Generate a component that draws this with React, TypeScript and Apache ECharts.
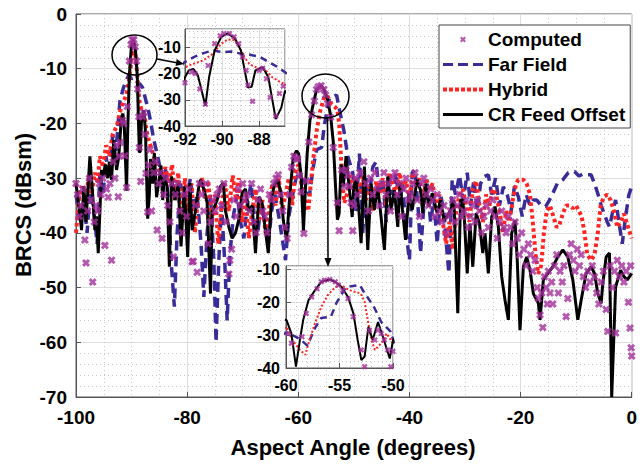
import { useEffect, useRef } from 'react';
import * as echarts from 'echarts';

const FONT = '"Liberation Sans", Arial, sans-serif';

// CR Feed Offset (black solid line) [aspect angle, BRCS]
const crFeedOffset: [number, number][] = [
  [-100,-30.9],[-99.5,-35],[-99,-39.5],[-98.6,-31.5],[-98.2,-38],[-97.5,-26],[-97,-33],[-96.6,-39.5],[-96.3,-37],[-96,-43.7],
  [-95.4,-28.5],[-95.1,-29.5],[-94.7,-27.5],[-94.3,-30],[-94,-27],[-93.6,-30.3],[-93.2,-23],[-92.7,-28.5],[-92.3,-26],[-92,-21.4],
  [-91.8,-18.8],[-91.55,-18.2],[-91.3,-20.8],[-90.9,-32.3],[-90.7,-21.4],[-90.4,-11.2],[-90.04,-6],[-89.7,-4.7],[-89.3,-6.6],[-88.98,-11.2],
  [-88.6,-25.3],[-88.4,-25],[-88.2,-18.8],[-87.8,-17.6],[-87.5,-21.4],[-87.1,-37.4],[-86.8,-33],[-86.6,-26.5],[-86.2,-31],[-85.9,-25.4],
  [-85.5,-33.5],[-85,-30],[-84.7,-27.7],[-84.4,-34],[-84.1,-29.7],[-83.6,-31.5],[-83.2,-46.2],[-82.8,-29.7],[-82.2,-34],[-81.6,-31],
  [-81.1,-42.5],[-80.5,-31.5],[-79.9,-44.4],[-79.5,-30.9],[-79.1,-39.5],[-78.5,-36],[-77.9,-31.5],[-77.6,-30.3],[-77,-32],[-76.4,-34.5],
  [-75.8,-51.1],[-75.5,-36],[-75.2,-35.5],[-74.6,-34],[-74,-31.5],[-73.5,-30.9],[-73.1,-36],[-72.5,-38.9],[-71.9,-41],[-71.3,-40],
  [-70.7,-37.6],[-70.1,-32.7],[-69.5,-32],[-68.9,-36],[-68.3,-35],[-67.7,-43.7],[-67.1,-33.4],[-66.5,-34.6],[-66,-38.9],[-65.4,-43.7],
  [-64.8,-33.4],[-64.2,-31],[-63.7,-30.3],[-63.1,-32.8],[-62.7,-37.7],[-62.1,-41.3],[-61.5,-32.8],[-60.9,-26.1],[-60.3,-25],[-59.94,-25.5],
  [-59.5,-29.5],[-59.07,-39.6],[-58.7,-31.5],[-58.4,-25.5],[-57.9,-19.4],[-57.3,-16.4],[-56.7,-13.8],[-55.9,-13.1],[-55.4,-13.8],[-54.8,-15.4],
  [-54.2,-18.4],[-53.7,-23.4],[-53.3,-31.5],[-52.96,-37.6],[-52.65,-36.5],[-52.3,-27.5],[-51.9,-31.5],[-51.4,-26],[-50.95,-30.5],[-50.3,-37.1],
  [-50,-31.5],[-49.6,-30.3],[-49.1,-35.8],[-48.7,-41.9],[-48.1,-27.9],[-47.5,-43.1],[-46.9,-31],[-46.3,-35.8],[-45.7,-31.6],[-45.1,-37.1],
  [-44.5,-43.1],[-43.9,-29.7],[-43.3,-35.8],[-42.7,-32.2],[-42.1,-38.9],[-41.7,-31],[-41.25,-35.8],[-40.7,-41.3],[-40.1,-32.8],[-39.5,-35.8],
  [-38.6,-30.3],[-38,-32.2],[-37.6,-36.4],[-37.1,-31],[-36.5,-35.2],[-35.9,-32.8],[-35,-36.4],[-34.4,-34],[-33.8,-37.7],[-33.2,-37],
  [-32.6,-35.8],[-32,-34],[-31.3,-54.7],[-30.8,-34],[-30.4,-34],[-30.1,-37.7],[-29.6,-47.4],[-29.1,-38.3],[-28.6,-46.2],[-28,-36.4],
  [-27.4,-38.3],[-26.8,-43.7],[-26.4,-40.1],[-25.8,-47.4],[-25.2,-37.1],[-24.6,-35.2],[-24,-38.9],[-23.4,-48],[-22.8,-52.3],[-22.2,-55.9],
  [-21.6,-40.1],[-21,-37.7],[-20.6,-45],[-20.1,-57.8],[-19.5,-46.2],[-18.9,-44.4],[-18.3,-46.8],[-17.7,-51.1],[-16.8,-52.9],[-16.5,-55.9],
  [-15.9,-48.6],[-15.1,-47.4],[-14.2,-46.2],[-13.3,-44.4],[-12.4,-43.1],[-11.5,-44.4],[-10.6,-48.6],[-9.7,-55.9],[-9.1,-52.3],[-8.2,-47.4],
  [-7.3,-46.2],[-6.7,-47.4],[-6.1,-51.1],[-5.5,-52.9],[-5.2,-49.2],[-4.6,-44.4],[-4,-43.7],[-3.6,-70],[-2.9,-49.9],[-2,-46.8],
  [-1.4,-48],[-0.8,-48.6],[0,-47.4],
];

// Far Field (blue dashed line)
const farField: [number, number][] = [
  [-100,-33],[-99.3,-38],[-98.6,-34],[-98,-40],[-97.4,-31],[-96.8,-36],[-96.2,-42],[-95.7,-29],[-95.1,-33],[-94.6,-26],
  [-94,-30],[-93.4,-22],[-92.8,-25],[-92.1,-16],[-91.5,-13.6],[-91,-12.2],[-90.5,-11.2],[-90,-11.8],[-89.5,-11.6],[-89,-12.4],
  [-88.5,-12.8],[-88,-13.5],[-87.5,-15.5],[-87,-17.5],[-86.6,-19.5],[-86,-23],[-85.3,-26],[-84.7,-29],[-84.2,-31],[-83.8,-28],
  [-83.3,-36],[-82.9,-45],[-82.3,-53.5],[-81.8,-40],[-81.2,-31],[-80.6,-34],[-80,-33],[-79.4,-30],[-78.8,-36],[-78.2,-33],
  [-77.5,-42],[-77,-51.7],[-76.4,-40],[-75.8,-33],[-75.2,-45],[-74.8,-60],[-74.3,-45],[-73.8,-35],[-73.2,-46],[-72.8,-56],
  [-72.3,-44],[-71.7,-37],[-71,-33],[-70.4,-38],[-69.8,-41],[-69.2,-35],[-68.5,-31],[-67.9,-37],[-67.3,-40],[-66.7,-35],
  [-66,-38],[-65.4,-42],[-64.8,-36],[-64.2,-33],[-63.5,-37],[-62.9,-41],[-62.3,-45],[-61.7,-37],[-61,-33],[-60.4,-30],
  [-59.9,-29.2],[-58.7,-31.2],[-58,-33.2],[-57.3,-27.9],[-56.7,-24.8],[-55.8,-24.4],[-55.3,-20.3],[-54.4,-15.4],[-53.1,-14.8],[-52.7,-17],
  [-51.8,-21.3],[-51.1,-26],[-50.2,-29],[-49.6,-36],[-49,-25.5],[-48.4,-40],[-47.8,-30],[-47.2,-33],[-46.6,-28],[-46,-27],
  [-45.4,-33],[-44.8,-30],[-44.2,-38],[-43.6,-30],[-43,-33],[-42.4,-29],[-41.8,-35],[-41.2,-31],[-40.6,-40],[-40,-45],
  [-39.5,-29],[-39,-28.5],[-38.4,-36],[-38,-43.7],[-37.4,-35],[-36.8,-31],[-36.2,-38],[-35.6,-34],[-35,-42],[-34.4,-33],
  [-33.8,-36],[-33.2,-44],[-32.9,-47.4],[-32.3,-30.3],[-31.7,-33],[-31,-29.5],[-30.3,-34],[-29.6,-29],[-29,-35],[-28.4,-30.3],
  [-27.8,-36],[-27.2,-31],[-26.5,-29.7],[-25.8,-29.4],[-25.2,-33],[-24.5,-30],[-23.8,-35],[-23.1,-31.6],[-22.4,-33],[-21.7,-36],
  [-21.1,-31.5],[-20.4,-33.4],[-19.7,-37],[-19,-33],[-18.3,-35],[-17.7,-34],[-17.1,-34],[-16.3,-35],[-15.5,-35.2],[-14.8,-34],
  [-14.2,-32.8],[-13.4,-31],[-12.4,-30.3],[-11.4,-29],[-10.3,-28.8],[-9.5,-29.6],[-8.7,-29.2],[-7.9,-29.4],[-7.3,-29.4],[-6.7,-31],
  [-6.1,-32.8],[-5.5,-35],[-5,-36.4],[-4.4,-38],[-4,-38.9],[-3.4,-36],[-2.9,-34],[-2.3,-38],[-1.7,-42],[-1.1,-37],
  [-0.5,-33],[0,-31.6],
];

// Hybrid (red dotted line)
const hybrid: [number, number][] = [
  [-100,-40],[-99.4,-33],[-98.9,-31.5],[-98.3,-36],[-97.8,-30],[-97.2,-33],[-96.6,-29],[-96.1,-31],[-95.7,-26],[-95.1,-28],
  [-94.6,-24],[-94,-26],[-93.4,-22],[-92.7,-20.6],[-92,-17.6],[-91.56,-16.3],[-91.02,-15],[-90.49,-12.4],[-90.04,-8.6],[-89.69,-7],
  [-89.33,-7.3],[-89.07,-9.9],[-88.8,-13.7],[-88.53,-16.3],[-88.18,-17.6],[-87.64,-18.8],[-87.29,-21.4],[-86.84,-23.3],[-86.3,-25],[-85.7,-27],
  [-85.1,-28.5],[-84.5,-30],[-83.9,-28],[-83.3,-31],[-82.7,-27.5],[-82.2,-34],[-81.6,-29],[-81,-38],[-80.4,-30],[-79.8,-36],
  [-79.2,-31],[-78.6,-40],[-78,-33],[-77.3,-30],[-76.7,-34],[-76.2,-30.5],[-75.6,-38],[-75,-33],[-74.4,-42],[-73.8,-35],
  [-73.2,-31],[-72.5,-36],[-71.8,-29.5],[-71.2,-34],[-70.7,-30],[-70.1,-38],[-69.5,-33],[-68.9,-41],[-68.3,-36],[-67.7,-32],
  [-67.1,-38],[-66.5,-34],[-65.9,-40],[-65.3,-36],[-64.7,-31],[-64.1,-35],[-63.5,-30],[-62.9,-36],[-62.3,-33],[-61.7,-30],
  [-61.1,-35],[-60.5,-28.5],[-59.94,-27.5],[-59.4,-31.5],[-58.7,-34.5],[-58.2,-36],[-57.8,-31.5],[-57.3,-26.5],[-56.7,-21.4],[-56.1,-17.9],
  [-55.4,-15.4],[-54.8,-14.9],[-54.05,-16.4],[-53.5,-16.9],[-53,-17.4],[-52.65,-19.9],[-52.3,-26.5],[-52,-31.5],[-51.7,-34.5],[-51.1,-32.5],
  [-50.6,-29.5],[-50.3,-31],[-50,-32.5],[-49.6,-30],[-49,-33],[-48.4,-29.7],[-47.8,-34],[-47.2,-31],[-46.6,-36],[-46,-30.5],
  [-45.4,-33],[-44.8,-30],[-44.2,-35],[-43.6,-29],[-43,-31],[-42.4,-33],[-41.8,-29],[-41.2,-32],[-40.6,-30.5],[-40,-34],
  [-39.4,-29],[-38.8,-31.5],[-38.2,-30],[-37.6,-35],[-37,-30],[-36.4,-32],[-35.8,-31],[-35.2,-36],[-34.6,-33],[-34,-38],
  [-33.4,-42],[-32.8,-38],[-32.2,-43],[-31.6,-36],[-31,-33],[-30.4,-32],[-29.8,-35],[-29.2,-38],[-28.6,-32],[-28,-30.5],
  [-27.4,-35],[-26.8,-38],[-26.2,-33],[-25.6,-35],[-25,-32],[-24.4,-33],[-23.8,-36],[-23.2,-40],[-22.6,-36],[-22,-38],
  [-21.4,-34],[-20.8,-31],[-20.4,-30.3],[-19.5,-30.3],[-18.9,-31],[-18.3,-33],[-17.8,-38],[-17.3,-44],[-16.8,-47.5],[-16.3,-46],
  [-15.8,-40],[-15.3,-36],[-14.7,-35],[-14.1,-37],[-13.5,-39],[-13,-38.5],[-12.4,-36.5],[-11.8,-35],[-11.2,-35],[-10.6,-35.5],
  [-10,-35],[-9.5,-36],[-9,-37],[-8.5,-40],[-8,-44],[-7.3,-45],[-6.7,-44],[-6.1,-40],[-5.6,-35],[-5,-33.4],
  [-4.4,-33],[-3.8,-34],[-3.2,-36],[-2.6,-39],[-2,-38],[-1.4,-36.5],[-0.8,-38.5],[0,-41],
];

// Computed (magenta x markers)
const computed: [number, number][] = [
  [-100,-31],[-99.7,-33],[-99.4,-37],[-99.1,-35],[-98.8,-32],[-98.4,-41.3],[-98.2,-45.5],[-97.9,-36],[-97.6,-30],[-97.3,-34],
  [-97,-49],[-96.7,-38],[-96.4,-35],[-96.1,-36],[-95.8,-31],[-95.5,-33],[-95.2,-30],[-94.8,-42.3],[-94.5,-32],[-94.2,-33.5],
  [-93.9,-31],[-93.6,-45],[-93.3,-27],[-93,-30],[-92.7,-24],[-92.4,-33.4],[-92.2,-26],
  [-92,-23.5],[-91.65,-19.4],[-91.45,-20],[-91.2,-25.9],[-90.9,-31.7],[-90.75,-16.9],[-90.4,-8.6],[-90.1,-5.6],[-89.9,-4.7],
  [-89.6,-4.7],[-89.35,-6],[-89.1,-8.6],[-88.9,-13.7],[-88.7,-18.8],[-88.6,-24.4],[-88.35,-30.6],[-88,-18.8],[-87.8,-18],[-87.6,-22],
  [-87.4,-29.1],[-87.1,-36.2],[-86.9,-27.6],[-86.7,-24.8],
  [-86.4,-36],[-86,-29],[-85.7,-27],[-85.4,-39.5],[-85.1,-31],[-84.8,-29],[-84.5,-41],[-84.2,-33],[-83.9,-30],[-83.5,-35],
  [-83.1,-38],[-82.8,-31],[-82.5,-44.4],[-82.1,-33],[-81.7,-31],[-81.3,-36],[-80.9,-40],[-80.5,-33],[-80.1,-37],[-79.7,-32],
  [-79.1,-45.3],[-78.9,-45.2],[-78.5,-35],[-78.2,-47.2],[-77.8,-31],[-77.4,-33],[-77,-36],[-76.6,-31],[-76.2,-42],[-75.8,-38],
  [-75.4,-34],[-75,-36],[-74.6,-33],[-74.2,-32],[-73.8,-35],[-73.4,-31],[-73,-38],[-72.5,-47.5],[-72.3,-45],[-72,-43],
  [-71.6,-34],[-71.2,-37],[-70.8,-32],[-70.4,-35],[-70,-31],[-69.6,-34],[-69.2,-33],[-68.8,-36],[-68.4,-31],[-68,-38],
  [-67.6,-40],[-67.2,-34],[-66.8,-32],[-66.4,-36],[-66,-37],[-65.6,-40],[-65.2,-33],[-64.8,-34],[-64.4,-31],[-64,-30],
  [-63.6,-29.4],[-63.2,-33],[-62.8,-36],[-62.4,-39],[-62,-41],[-61.6,-33],[-61.2,-28],[-60.8,-26],[-60.4,-26.5],
  [-60.1,-26.5],[-59.8,-29.5],[-59.5,-32.5],[-59,-40.1],[-58.5,-30.5],[-58.1,-23.4],[-57.6,-18.4],[-57.1,-15.9],[-56.7,-13.8],[-56.4,-13.3],
  [-55.9,-13.1],[-55.4,-13.8],[-55.1,-14.8],[-54.7,-16.4],[-54.2,-18.9],[-53.7,-24.4],[-52.96,-34.5],[-52.65,-39.6],[-52.2,-28.5],[-51.7,-31.5],
  [-51.4,-28.5],[-51.1,-29.5],[-50.8,-31.5],[-50.5,-34.5],[-50.2,-39.6],[-50,-35],
  [-49.7,-30],[-49.3,-33],[-48.9,-29],[-48.2,-27],[-47.8,-31],[-47.4,-36],[-47,-30],[-46.6,-33],[-46.2,-29],[-45.8,-32],
  [-45.4,-35],[-45,-31],[-44.6,-29],[-44.2,-33],[-43.8,-31],[-43.4,-36],[-43,-30],[-42.6,-29],[-42.2,-33],[-41.8,-31],
  [-41.4,-37],[-41,-32],[-40.6,-30],[-40.2,-34],[-39.8,-33],[-39.4,-31],[-39,-29],[-38.6,-34],[-38.2,-37],[-37.8,-31],
  [-37.4,-30],[-37,-33],[-36.6,-35],[-36.2,-32],[-35.8,-34],[-35.4,-37],[-35,-33],[-34.6,-36],[-34.2,-38],[-33.8,-35],
  [-33.4,-40],[-33,-37],[-32.6,-36],[-32.2,-34],[-31.8,-38],[-31.4,-35],[-31,-33],[-30.6,-37],[-30.2,-36],[-29.8,-34],
  [-29.4,-39],[-29,-37],[-28.6,-35],[-28.2,-38],[-27.8,-34],[-27.4,-36],[-27,-40],[-26.6,-37],[-26.2,-35],[-25.8,-39],
  [-25.4,-36],[-25,-34],[-24.6,-37],[-24.2,-41],[-23.8,-38],[-23.4,-36],[-23,-39],[-22.6,-40],[-22.2,-37],[-21.8,-39],
  [-21.4,-42],[-21,-38],[-20.6,-41],[-20.2,-44],[-19.8,-40],[-19.4,-43],[-19,-46],[-18.6,-42],[-18.2,-44],[-17.8,-47],
  [-17.4,-45],[-17,-50],[-16.8,-52],[-16.5,-55],[-16.2,-51],[-16,-57.3],[-15.7,-48],[-15.4,-50],[-15.2,-53],[-15,-47],
  [-14.7,-51],[-14.4,-49],[-14.2,-53],[-13.9,-46],[-13.5,-44],[-13.2,-51],[-12.9,-47],[-12.5,-49],[-12.2,-46],[-11.8,-55.3],
  [-11.5,-52],[-11.2,-44],[-10.9,-42],[-10.5,-45],[-10.2,-47],[-9.8,-43],[-9.4,-46],[-9.1,-44],[-8.7,-48],[-8.3,-50],
  [-7.9,-47],[-7.5,-49],[-7.1,-46],[-6.7,-48],[-6.3,-51],[-5.9,-53],[-5.5,-49],[-5.1,-47],[-4.6,-54],[-4.3,-58],
  [-3.9,-46],[-3.5,-50],[-3.1,-47],[-2.9,-58.3],[-2.6,-45],[-2.2,-48],[-1.8,-46],[-1.4,-49],[-1,-47],[-0.6,-52.7],
  [-0.3,-57.4],[-0.2,-46],[-0.1,-61],[0,-62.5],
];

const legendNames = ['Computed', 'Far Field', 'Hybrid', 'CR Feed Offset'];
const mainXRange = [-100, 0];
const mainYRange = [-70, 0];
const inset1XRange = [-92, -86.6];
const inset1YRange = [-40, -3];
const inset2XRange = [-60, -50];
const inset2YRange = [-40, -9];

const X_SYMBOL = 'path://M0,2.6L2.6,0L5,2.4L7.4,0L10,2.6L7.6,5L10,7.4L7.4,10L5,7.6L2.6,10L0,7.4L2.4,5Z';
const X_LEGEND = 'path://M-7,-7M17,17M0,2.6L2.6,0L5,2.4L7.4,0L10,2.6L7.6,5L10,7.4L7.4,10L5,7.6L2.6,10L0,7.4L2.4,5Z';
const DASH_LEGEND = 'path://M0,0h10v3.2h-10zM15,0h10v3.2h-10zM30,0h10v3.2h-10z';
const DOT_LEGEND = 'path://M0,0h4v4h-4zM6,0h4v4h-4zM12,0h4v4h-4zM18,0h4v4h-4zM24,0h4v4h-4zM30,0h4v4h-4zM36,0h4v4h-4z';
const SOLID_LEGEND = 'path://M0,0h40v3h-40z';

const C_COMP = '#a3309b';
const C_FAR = '#3a2c98';
const C_HYB = '#ff2424';
const C_CR = '#000000';

function within(d: [number, number][], r: number[]) {
  return d.filter((p) => p[0] >= r[0] - 0.8 && p[0] <= r[1] + 0.8);
}

function makeAxis(grid: number, range: number[], interval: number, fs: number, margin: number, minorSplit: number, z: number, hideMax: boolean) {
  return {
    type: 'value',
    gridIndex: grid,
    min: range[0],
    max: range[1],
    interval,
    z,
    axisLine: { show: true, onZero: false, lineStyle: { color: '#555', width: 1 } },
    axisTick: { show: true, inside: true, length: 5, lineStyle: { color: '#555' } },
    axisLabel: {
      color: '#000', fontSize: fs, fontWeight: 'bold', fontFamily: FONT, margin,
      showMaxLabel: hideMax ? false : undefined,
    },
    splitLine: { show: true, lineStyle: { color: '#dedede', width: 1 } },
    minorTick: { show: false, splitNumber: minorSplit },
    minorSplitLine: { show: true, lineStyle: { color: '#c8c8c8', width: 1, type: [1, 3] } },
  };
}

function seriesSet(xi: number, d: { comp: any; far: any; hyb: any; cr: any }, inset: boolean, z: number) {
  return [
    {
      name: 'Computed', type: 'scatter', xAxisIndex: xi, yAxisIndex: xi, data: d.comp,
      symbol: X_SYMBOL, symbolSize: inset ? 6 : 8, itemStyle: { color: C_COMP }, z, clip: true,
    },
    {
      name: 'Far Field', type: 'line', xAxisIndex: xi, yAxisIndex: xi, data: d.far, symbol: 'none', showSymbol: false,
      color: C_FAR, itemStyle: { color: C_FAR },
      lineStyle: { color: C_FAR, width: inset ? 2.5 : 3.5, type: inset ? [7, 5] : [10, 6] }, z, clip: true,
    },
    {
      name: 'Hybrid', type: 'line', xAxisIndex: xi, yAxisIndex: xi, data: d.hyb, symbol: 'none', showSymbol: false,
      color: C_HYB, itemStyle: { color: C_HYB },
      lineStyle: { color: C_HYB, width: inset ? 2 : 4, type: inset ? [2, 2] : [3.5, 3] }, z, clip: true,
    },
    {
      name: 'CR Feed Offset', type: 'line', xAxisIndex: xi, yAxisIndex: xi, data: d.cr, symbol: 'none', showSymbol: false,
      color: C_CR, itemStyle: { color: C_CR },
      lineStyle: { color: C_CR, width: inset ? 2 : 3 }, z, clip: true,
    },
  ];
}

function arrowHead(tip: number[], from: number[], len: number, half: number) {
  const dx = tip[0] - from[0];
  const dy = tip[1] - from[1];
  const L = Math.sqrt(dx * dx + dy * dy);
  const ux = dx / L, uy = dy / L;
  const bx = tip[0] - ux * len, by = tip[1] - uy * len;
  return [tip, [bx - uy * half, by + ux * half], [bx + uy * half, by - ux * half]];
}

export default function App() {
  const ref = useRef<HTMLDivElement>(null);
  useEffect(() => {
    const chart = echarts.init(ref.current!, null, { renderer: 'svg' });
    const main = { comp: computed, far: farField, hyb: hybrid, cr: crFeedOffset };
    const in1 = {
      comp: within(computed, inset1XRange), far: within(farField, inset1XRange),
      hyb: within(hybrid, inset1XRange), cr: within(crFeedOffset, inset1XRange),
    };
    const in2 = {
      comp: within(computed, inset2XRange), far: within(farField, inset2XRange),
      hyb: within(hybrid, inset2XRange), cr: within(crFeedOffset, inset2XRange),
    };
    const a1from = [157, 59];
    const a1tip = [184, 64];
    const a2from = [327.5, 118];
    const a2tip = [328, 267];
    const option: any = {
      animation: false,
      backgroundColor: '#fff',
      grid: [
        { left: 76, top: 14, width: 560, height: 383, show: true, borderColor: '#555', borderWidth: 1, backgroundColor: '#fff' },
        { left: 185, top: 29, width: 100, height: 97, show: true, borderColor: '#555', borderWidth: 1, backgroundColor: '#fff', z: 10 },
        { left: 286, top: 266, width: 107, height: 102, show: true, borderColor: '#555', borderWidth: 1, backgroundColor: '#fff', z: 10 },
      ],
      xAxis: [
        makeAxis(0, mainXRange, 20, 19, 11, 4, 0, false),
        makeAxis(1, inset1XRange, 2, 16, 5, 4, 13, true),
        makeAxis(2, inset2XRange, 5, 16, 9, 5, 13, false),
      ],
      yAxis: [
        makeAxis(0, mainYRange, 10, 19, 9, 5, 0, false),
        makeAxis(1, inset1YRange, 10, 16, 4, 5, 13, true),
        makeAxis(2, inset2YRange, 10, 16, 6, 5, 13, true),
      ],
      legend: {
        data: [
          { name: legendNames[0], icon: X_LEGEND },
          { name: legendNames[1], icon: DASH_LEGEND },
          { name: legendNames[2], icon: DOT_LEGEND },
          { name: legendNames[3], icon: SOLID_LEGEND },
        ],
        orient: 'vertical', left: 439, top: 25,
        itemWidth: 40, itemHeight: 14, itemGap: 6,
        padding: [5, 5, 4, 4],
        backgroundColor: '#fff', borderColor: '#444', borderWidth: 1,
        selectedMode: false,
        textStyle: { fontSize: 19, fontWeight: 'bold', fontFamily: FONT, color: '#000', lineHeight: 19 },
        z: 20,
      },
      series: [
        ...seriesSet(0, main, false, 2),
        ...seriesSet(1, in1, true, 14),
        ...seriesSet(2, in2, true, 14),
      ],
      graphic: [
        { type: 'ellipse', z: 20, shape: { cx: 134.5, cy: 55, rx: 22.5, ry: 20 }, style: { fill: 'none', stroke: '#000', lineWidth: 1.5 } },
        { type: 'ellipse', z: 20, shape: { cx: 325.5, cy: 96, rx: 23.5, ry: 22 }, style: { fill: 'none', stroke: '#000', lineWidth: 1.5 } },
        { type: 'line', z: 20, shape: { x1: a1from[0], y1: a1from[1], x2: 178, y2: 62.9 }, style: { stroke: '#000', lineWidth: 1.5 } },
        { type: 'polygon', z: 20, shape: { points: arrowHead(a1tip, a1from, 8, 3.5) }, style: { fill: '#000' } },
        { type: 'line', z: 20, shape: { x1: a2from[0], y1: a2from[1], x2: 328, y2: 260 }, style: { stroke: '#000', lineWidth: 1.5 } },
        { type: 'polygon', z: 20, shape: { points: arrowHead(a2tip, a2from, 9, 3.5) }, style: { fill: '#000' } },
        {
          type: 'text', z: 20, x: 23, y: 205, rotation: Math.PI / 2,
          style: { text: 'BRCS (dBsm)', font: `bold 22px ${FONT}`, fill: '#000', textAlign: 'center', textVerticalAlign: 'middle' },
        },
        {
          type: 'text', z: 20, x: 353, y: 447,
          style: { text: 'Aspect Angle (degrees)', font: `bold 22px ${FONT}`, fill: '#000', textAlign: 'center', textVerticalAlign: 'middle' },
        },
      ],
    };
    chart.setOption(option);
    return () => chart.dispose();
  }, []);
  return (
    <div
      ref={ref}
      style={{ position: 'absolute', left: 0, top: 0, width: 640, height: 464, background: '#fff' }}
    />
  );
}
